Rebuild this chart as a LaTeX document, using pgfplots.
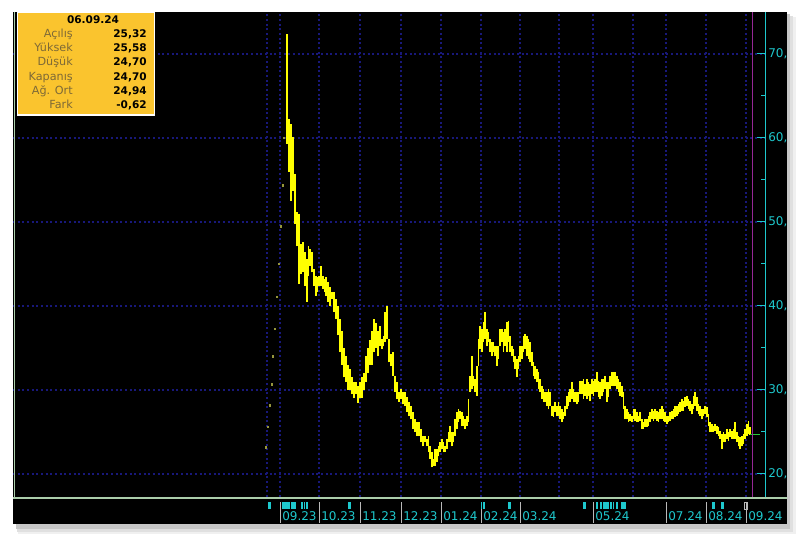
\documentclass[border=0pt]{standalone}
\usepackage{pgfplots}
\pgfplotsset{compat=1.18}
\usepackage{pgfplotstable}
\usepackage{fontspec}
\setmainfont{DejaVu Sans}
\definecolor{barY}{RGB}{255,255,0}
\definecolor{dotc}{RGB}{150,150,60}
\definecolor{gridb}{RGB}{24,24,122}
\definecolor{tealc}{RGB}{30,200,205}
\definecolor{magc}{RGB}{150,40,150}
\definecolor{boxy}{RGB}{250,196,46}
\definecolor{lblc}{RGB}{125,105,55}
\definecolor{sepc}{RGB}{185,185,185}
\definecolor{edgec}{RGB}{170,205,170}
\definecolor{lastc}{RGB}{40,200,60}

\pgfplotstableread{
x lo hi
287 59.3 72.4
289 56.0 62.3
291 52.5 61.7
293 53.7 60.1
295 49.8 55.7
297 47.1 51.2
299 42.6 51.0
301 43.8 47.4
303 44.0 47.6
305 42.4 46.4
307 40.5 45.6
308.5 43.6 47.1
310 44.8 46.8
312 44.0 46.4
314 42.4 44.4
316 41.2 43.6
317.5 41.7 43.5
319 42.4 43.6
321 42.4 44.8
323 42.0 43.6
324.5 41.7 43.2
326 41.2 43.5
328 40.5 42.9
330 40.0 42.3
332 40.8 41.7
334 39.3 41.7
336 38.5 40.8
338 36.5 40.0
340 34.5 38.5
342 33.0 37.0
344 31.5 35.0
346 31.0 34.0
348 30.0 33.0
350 30.0 32.5
352 29.5 31.5
354 29.0 31.0
356 29.5 31.0
358 28.5 30.5
360 29.0 31.0
362 29.0 31.5
364 30.0 32.0
366 31.0 34.0
368 32.0 35.0
370 33.0 36.0
372 33.0 37.0
374 34.5 38.5
376 35.0 38.0
378 34.0 37.0
380 35.2 37.6
382 34.9 36.1
383.5 35.2 36.4
385 35.7 39.3
387 36.1 40.0
389 33.3 36.1
391 32.9 34.3
393 31.7 34.5
395 29.8 31.7
397 28.9 31.0
399 28.6 29.8
401 28.9 30.1
403 28.3 29.8
405 28.1 29.8
407 27.4 29.2
409 26.9 28.6
411 26.5 28.1
413 25.4 27.4
415 25.0 26.5
417 24.5 26.2
419 24.5 26.2
421 23.8 25.4
423 23.3 24.5
425 23.8 24.5
427 23.3 24.2
428.5 22.6 24.5
430 21.8 23.3
432 20.8 22.6
433.5 21.0 21.8
435 21.0 23.0
437 21.4 23.0
438.5 22.1 23.3
440 22.6 23.8
442 23.0 24.2
443.5 22.6 23.8
445 22.6 23.3
447 23.0 24.2
448.5 23.8 25.0
450 23.8 25.7
452 23.3 25.0
453.5 23.8 25.0
455 24.5 26.5
457 25.4 27.4
458.5 26.2 27.7
460 26.5 27.5
462 25.7 27.4
463.5 25.7 26.9
465 25.4 26.5
467 25.7 26.9
468.5 26.2 28.9
470 29.8 31.7
472 30.1 34.0
473.5 30.5 31.7
475 29.8 31.3
477 29.3 32.9
478.5 32.9 36.1
480 34.9 37.6
482 34.5 37.3
483.5 35.7 38.1
485 36.1 39.3
487 35.2 37.3
488.5 35.7 36.9
490 34.5 36.1
492 34.0 35.7
493.5 34.5 35.7
495 34.0 35.2
497 32.9 35.2
498.5 33.7 35.2
500 35.2 37.3
502 35.7 37.3
503.5 34.5 36.9
505 35.2 37.3
507 34.5 38.1
508.5 35.7 38.2
510 34.5 36.4
512 34.0 35.2
513.5 33.3 34.9
515 32.5 34.0
517 31.5 33.7
518.5 32.5 34.0
520 33.3 35.2
522 33.7 35.2
523.5 34.5 36.4
525 34.9 36.7
527 34.0 36.4
528.5 33.7 36.1
530 33.3 35.7
532 32.9 34.5
533.5 31.7 33.3
535 31.3 32.9
537 31.0 32.5
538.5 30.1 32.1
540 29.8 31.3
542 28.9 30.5
543.5 28.6 30.1
545 28.6 29.8
547 28.1 29.8
548.5 27.7 30.1
550 28.1 29.8
552 26.9 28.1
553.5 26.8 28.1
555 27.4 28.6
557 26.9 28.1
558.5 26.9 28.6
560 26.5 28.1
562 26.2 27.7
563.5 26.5 27.4
565 26.9 28.1
567 27.7 29.3
568.5 28.1 29.8
570 28.6 30.1
572 28.9 31.0
573.5 28.6 30.1
575 28.6 29.8
577 28.3 29.8
578.5 28.6 29.8
580 29.5 31.1
582 29.5 31.1
583.5 28.9 31.3
585 29.3 30.7
587 28.9 31.3
588.5 29.3 31.0
590 28.7 30.7
592 29.5 31.3
593.5 29.3 31.1
595 29.8 31.3
597 29.8 32.1
598.5 29.2 31.1
600 28.9 31.0
602 29.3 31.3
603.5 29.8 31.3
605 30.1 31.7
607 28.6 31.0
608.5 29.2 31.0
610 30.1 31.7
612 30.5 32.1
613.5 30.5 32.1
615 30.5 32.1
617 30.1 31.7
618.5 29.8 31.3
620 29.3 31.0
622 29.2 30.5
623.5 27.7 29.8
625 26.5 28.1
627 26.5 27.7
628.5 26.2 27.4
630 26.3 27.1
632 26.2 26.9
633.5 26.5 27.7
635 26.3 27.7
637 26.2 27.4
638.5 26.2 26.9
640 26.3 27.4
642 25.4 26.5
643.5 25.4 26.2
645 25.6 26.5
647 25.6 26.5
648.5 25.7 26.9
650 26.2 27.4
652 26.5 27.7
653.5 26.3 27.5
655 26.5 27.7
657 26.3 27.5
658.5 26.2 27.4
660 26.5 27.7
662 26.5 28.1
663.5 26.3 27.7
665 26.2 27.4
667 26.0 26.9
668.5 26.2 26.9
670 26.3 27.4
672 26.5 27.5
673.5 26.5 27.7
675 26.8 28.1
677 26.9 28.1
678.5 27.1 28.3
680 27.4 28.6
682 27.5 28.9
683.5 27.5 28.7
685 28.0 29.2
687 28.1 29.3
688.5 27.7 28.9
690 27.5 28.7
692 27.1 28.3
693.5 27.7 29.3
695 28.1 29.8
697 27.5 29.2
698.5 27.1 28.3
700 26.9 28.1
702 26.5 27.7
703.5 26.9 27.7
705 27.1 28.1
707 26.8 28.0
708.5 25.7 27.1
710 25.0 26.2
712 25.0 26.0
713.5 25.0 25.7
715 25.1 26.0
717 24.8 25.7
718.5 24.5 25.6
720 24.2 25.1
722 23.0 24.8
723.5 23.8 25.0
725 23.8 24.8
727 24.2 25.4
728.5 23.9 25.0
730 24.4 25.4
732 24.2 25.1
733.5 24.2 25.4
735 24.2 26.2
737 23.8 25.0
738.5 23.3 24.5
740 23.0 24.4
742 23.3 24.5
743.5 23.6 24.8
745 24.2 25.4
747 24.5 26.0
748.5 24.8 26.3
750 24.70 25.58
}\bars

\pgfplotstableread{
x p
266 23.2
268 25.6
270 28.2
271.5 30.7
273 34.0
275 37.3
277 41.1
279 45.0
281 49.5
282.5 54.4
284 60.0
}\limitdots

\begin{document}
\begin{tikzpicture}
\begin{axis}[
  set layers,
  scale only axis, width=564pt, height=363.75pt,
  xmin=13, xmax=765, ymin=17.262, ymax=75.0,
  axis y line*=right, axis x line*=bottom,
  x axis line style={draw=none},
  y axis line style={draw=tealc, line width=0.75pt},
  xtick={267,280,319,360,401,441,481,520,559,593,633,666,706,746},
  xticklabels={}, major x tick style={draw=none},
  ytick={20,30,40,50,60,70},
  yticklabels={{20,},{30,},{40,},{50,},{60,},{70,}},
  minor y tick num=1,
  tick align=inside,
  major tick length=6pt, minor tick length=3pt,
  y tick style={draw=tealc, line width=0.75pt},
  yticklabel style={font=\fontsize{9}{10}\selectfont, text=tealc, anchor=west, inner sep=0pt, xshift=2.25pt},
  xmajorgrids, ymajorgrids,
  major grid style={draw=gridb, line width=0.8pt, dash pattern=on 1.4pt off 2.1pt},
  clip=false,
]
\begin{pgfonlayer}{axis background}
  \fill[white] (axis cs:0,12.619) rectangle (axis cs:800,76.4286);
  \fill[black!6] (axis cs:18,12.857) rectangle (axis cs:796,74.405);
  \fill[black!12] (axis cs:17,13.095) rectangle (axis cs:793,74.524);
  \fill[black!22] (axis cs:16,13.452) rectangle (axis cs:790,74.762);
  \fill[black] (axis cs:13,14.048) rectangle (axis cs:787,75.0);
\end{pgfonlayer}

\addplot[only marks, mark=square*, mark size=0.55pt, color=dotc] table[x=x, y=p] {\limitdots};
\addplot[draw=none, mark=none, forget plot,
  error bars/.cd, y dir=plus, y explicit, error mark=none,
  error bar style={draw=barY, line width=0.8pt}]
  table[x=x, y=lo, y error expr=\thisrow{hi}-\thisrow{lo}] {\bars};
\addplot[draw=lastc, line width=1pt, mark=none] coordinates {(750,24.70) (760,24.70)};
\draw[magc, line width=0.75pt] (axis cs:752,17.262) -- (axis cs:752,75.0);

% left edge line and bottom separator
\draw[edgec, line width=0.75pt] (axis cs:14.5,17.262) -- (axis cs:14.5,75.0);
\draw[edgec, line width=1.5pt] (axis cs:13,17.202) -- (axis cs:787,17.202);

% date strip separators
\draw[sepc, line width=0.75pt] (axis cs:280,14.167) -- (axis cs:280,16.667);
\draw[sepc, line width=0.75pt] (axis cs:319,14.167) -- (axis cs:319,16.667);
\draw[sepc, line width=0.75pt] (axis cs:360,14.167) -- (axis cs:360,16.667);
\draw[sepc, line width=0.75pt] (axis cs:401,14.167) -- (axis cs:401,16.667);
\draw[sepc, line width=0.75pt] (axis cs:441,14.167) -- (axis cs:441,16.667);
\draw[sepc, line width=0.75pt] (axis cs:481,14.167) -- (axis cs:481,16.667);
\draw[sepc, line width=0.75pt] (axis cs:520,14.167) -- (axis cs:520,16.667);
\draw[sepc, line width=0.75pt] (axis cs:593,14.167) -- (axis cs:593,16.667);
\draw[sepc, line width=0.75pt] (axis cs:666,14.167) -- (axis cs:666,16.667);
\draw[sepc, line width=0.75pt] (axis cs:706,14.167) -- (axis cs:706,16.667);
\draw[sepc, line width=0.75pt] (axis cs:746,14.167) -- (axis cs:746,16.667);

% event markers
\fill[tealc] (axis cs:267.5,15.833) rectangle (axis cs:270.5,16.667);
\fill[tealc] (axis cs:281.5,15.833) rectangle (axis cs:289.5,16.667);
\fill[tealc] (axis cs:290.5,15.833) rectangle (axis cs:295.5,16.667);
\fill[tealc] (axis cs:301,15.833) rectangle (axis cs:302.5,16.667);
\fill[tealc] (axis cs:303.5,15.833) rectangle (axis cs:305,16.667);
\fill[tealc] (axis cs:306,15.833) rectangle (axis cs:307.5,16.667);
\fill[tealc] (axis cs:347.5,15.833) rectangle (axis cs:350.5,16.667);
\fill[tealc] (axis cs:480.5,15.833) rectangle (axis cs:482,16.667);
\fill[tealc] (axis cs:483,15.833) rectangle (axis cs:484.5,16.667);
\fill[tealc] (axis cs:507.5,15.833) rectangle (axis cs:510.5,16.667);
\fill[tealc] (axis cs:582.5,15.833) rectangle (axis cs:585.5,16.667);
\fill[tealc] (axis cs:596,15.833) rectangle (axis cs:598,16.667);
\fill[tealc] (axis cs:599.5,15.833) rectangle (axis cs:601.5,16.667);
\fill[tealc] (axis cs:603,15.833) rectangle (axis cs:608.5,16.667);
\fill[tealc] (axis cs:610,15.833) rectangle (axis cs:611.5,16.667);
\fill[tealc] (axis cs:612.5,15.833) rectangle (axis cs:614,16.667);
\fill[tealc] (axis cs:615.5,15.833) rectangle (axis cs:617.5,16.667);
\fill[tealc] (axis cs:620.5,15.833) rectangle (axis cs:625.5,16.667);
\fill[tealc] (axis cs:711.5,15.833) rectangle (axis cs:714.5,16.667);
\fill[tealc] (axis cs:720.5,15.833) rectangle (axis cs:723.5,16.667);
\draw[sepc, line width=0.6pt] (axis cs:744.5,15.833) rectangle (axis cs:747.5,16.667);

% date labels
\node[anchor=base west, inner sep=0pt, text=tealc, font=\fontsize{9}{10}\selectfont] at (axis cs:282,14.44) {09.23};
\node[anchor=base west, inner sep=0pt, text=tealc, font=\fontsize{9}{10}\selectfont] at (axis cs:321,14.44) {10.23};
\node[anchor=base west, inner sep=0pt, text=tealc, font=\fontsize{9}{10}\selectfont] at (axis cs:362,14.44) {11.23};
\node[anchor=base west, inner sep=0pt, text=tealc, font=\fontsize{9}{10}\selectfont] at (axis cs:403,14.44) {12.23};
\node[anchor=base west, inner sep=0pt, text=tealc, font=\fontsize{9}{10}\selectfont] at (axis cs:443,14.44) {01.24};
\node[anchor=base west, inner sep=0pt, text=tealc, font=\fontsize{9}{10}\selectfont] at (axis cs:483,14.44) {02.24};
\node[anchor=base west, inner sep=0pt, text=tealc, font=\fontsize{9}{10}\selectfont] at (axis cs:522,14.44) {03.24};
\node[anchor=base west, inner sep=0pt, text=tealc, font=\fontsize{9}{10}\selectfont] at (axis cs:595,14.44) {05.24};
\node[anchor=base west, inner sep=0pt, text=tealc, font=\fontsize{9}{10}\selectfont] at (axis cs:668,14.44) {07.24};
\node[anchor=base west, inner sep=0pt, text=tealc, font=\fontsize{9}{10}\selectfont] at (axis cs:708,14.44) {08.24};
\node[anchor=base west, inner sep=0pt, text=tealc, font=\fontsize{9}{10}\selectfont] at (axis cs:748,14.44) {09.24};

% info box
\begin{pgfonlayer}{axis foreground}
\fill[boxy] (axis cs:17.5,62.738) rectangle (axis cs:154.5,74.94);
\draw[white, line width=1.1pt] (axis cs:17.5,62.738) rectangle (axis cs:154.5,74.94);
\node[anchor=base, inner sep=0pt, font=\bfseries\fontsize{7.9}{9}\selectfont] at (axis cs:93,73.571) {06.09.24};
\node[anchor=base east, inner sep=0pt, text=lblc, font=\fontsize{8.4}{9}\selectfont] at (axis cs:73,71.964) {Açılış};
\node[anchor=base east, inner sep=0pt, text=lblc, font=\fontsize{8.4}{9}\selectfont] at (axis cs:73,70.274) {Yüksek};
\node[anchor=base east, inner sep=0pt, text=lblc, font=\fontsize{8.4}{9}\selectfont] at (axis cs:73,68.583) {Düşük};
\node[anchor=base east, inner sep=0pt, text=lblc, font=\fontsize{8.4}{9}\selectfont] at (axis cs:73,66.893) {Kapanış};
\node[anchor=base east, inner sep=0pt, text=lblc, font=\fontsize{8.4}{9}\selectfont] at (axis cs:73,65.202) {Ağ. Ort};
\node[anchor=base east, inner sep=0pt, text=lblc, font=\fontsize{8.4}{9}\selectfont] at (axis cs:73,63.512) {Fark};
\node[anchor=base east, inner sep=0pt, font=\bfseries\fontsize{7.9}{9}\selectfont] at (axis cs:147,71.964) {25,32};
\node[anchor=base east, inner sep=0pt, font=\bfseries\fontsize{7.9}{9}\selectfont] at (axis cs:147,70.274) {25,58};
\node[anchor=base east, inner sep=0pt, font=\bfseries\fontsize{7.9}{9}\selectfont] at (axis cs:147,68.583) {24,70};
\node[anchor=base east, inner sep=0pt, font=\bfseries\fontsize{7.9}{9}\selectfont] at (axis cs:147,66.893) {24,70};
\node[anchor=base east, inner sep=0pt, font=\bfseries\fontsize{7.9}{9}\selectfont] at (axis cs:147,65.202) {24,94};
\node[anchor=base east, inner sep=0pt, font=\bfseries\fontsize{7.9}{9}\selectfont] at (axis cs:147,63.512) {-0,62};
\end{pgfonlayer}
\end{axis}
\end{tikzpicture}
\end{document}
